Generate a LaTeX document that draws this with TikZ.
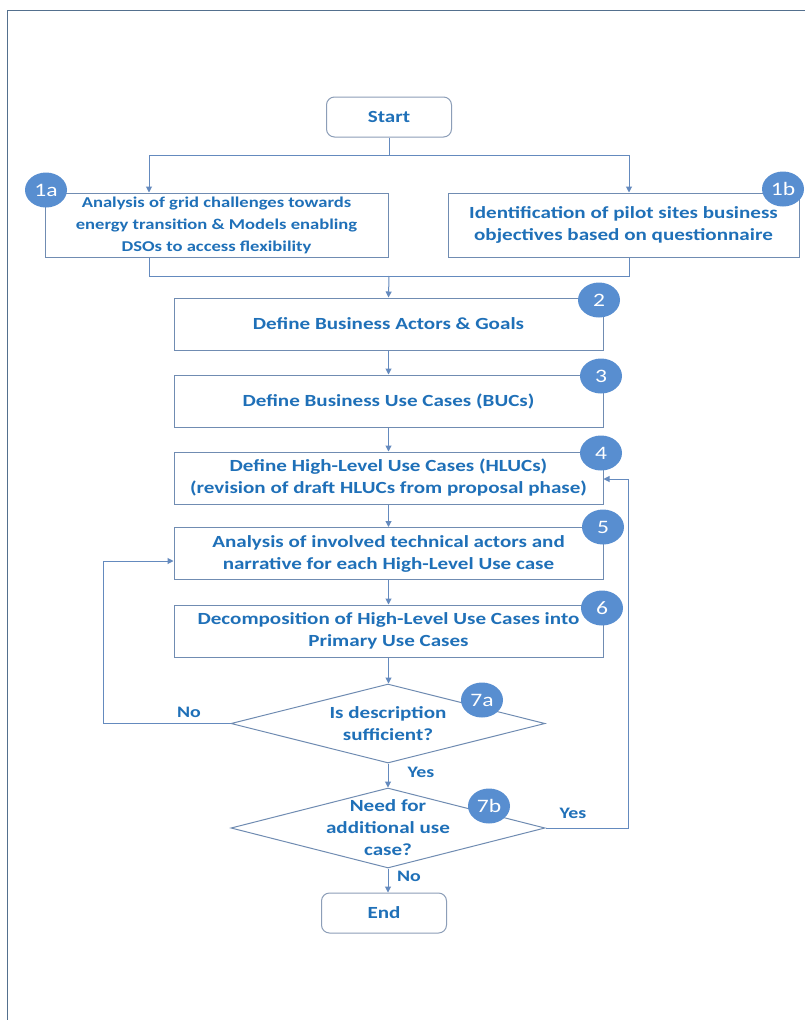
\documentclass[tikz,border=0pt]{standalone}
\usepackage{fontspec}
\setmainfont{Carlito}[FakeStretch=1.24]
\usetikzlibrary{arrows.meta,shapes.geometric}

\definecolor{txtblue}{RGB}{31,112,184}
\definecolor{linecol}{RGB}{100,138,190}
\definecolor{boxcol}{RGB}{112,140,178}
\definecolor{termcol}{RGB}{140,158,184}
\definecolor{badgecol}{RGB}{88,142,208}
\definecolor{framecol}{RGB}{84,112,142}

\tikzset{
  every node/.style={font=\bfseries\fontsize{17}{22}\selectfont, text=txtblue},
  procbox/.style={draw=boxcol, line width=1pt, fill=white, inner sep=0pt,
    align=center, minimum width=429pt, minimum height=52pt},
  sidebox/.style={draw=boxcol, line width=1pt, fill=white, inner sep=0pt,
    align=center, minimum height=64pt},
  termbox/.style={draw=termcol, line width=1pt, fill=white, rounded corners=8pt,
    inner sep=0pt, minimum width=125pt, minimum height=40pt},
  decision/.style={draw=boxcol, line width=1pt, fill=white, diamond,
    inner sep=0pt, minimum width=314pt, minimum height=79pt, aspect=4},
  badge/.style={ellipse, fill=badgecol, inner sep=0pt, minimum width=42pt,
    minimum height=35pt, font=\fontsize{19}{19}\selectfont, text=white},
  flow/.style={draw=linecol, line width=1pt},
  arr/.style={flow, -{Triangle[length=6pt,width=6pt]}},
  answer/.style={font=\bfseries\fontsize{16}{20}\selectfont},
}

\begin{document}
\begin{tikzpicture}[x=1pt, y=-1pt]
  \useasboundingbox (0,0) rectangle (805,1020);
  \fill[white] (0,0) rectangle (805,1020);
  % outer frame
  \draw[framecol, line width=0.8pt] (7,1020) -- (7,10) -- (805,10);

  % terminals
  \node[termbox] (start) at (389,117) {Start};
  \node[termbox] (end) at (384,913) {End};

  % first parallel pair
  \node[sidebox, minimum width=343pt] (a1) at (216.5,225)
    {\fontsize{15}{18}\selectfont Analysis of grid challenges towards\\
     \fontsize{15}{18}\selectfont energy transition \& Models enabling\\
     \fontsize{15}{18}\selectfont DSOs to access flexibility};
  \node[sidebox, minimum width=351pt] (b1) at (623.5,225)
    {Identification of pilot sites business\\objectives based on questionnaire};

  % main sequence
  \node[procbox] (b2) at (388.5,324) {Define Business Actors \& Goals};
  \node[procbox] (b3) at (388.5,401) {Define Business Use Cases (BUCs)};
  \node[procbox] (b4) at (388.5,478)
    {Define High-Level Use Cases (HLUCs)\\(revision of draft HLUCs from proposal phase)};
  \node[procbox] (b5) at (388.5,553.5)
    {Analysis of involved technical actors and\\narrative for each High-Level Use case};
  \node[procbox] (b6) at (388.5,631)
    {Decomposition of High-Level Use Cases into\\Primary Use Cases};

  % decisions
  \node[decision] (d7a) at (388,723.5) {};
  \node[align=center] (q7a) at (388,724) {Is description\\sufficient?};
  \node[decision, minimum height=80pt] (d7b) at (388,828) {};
  \node[align=center] (q7b) at (388,828) {Need for\\additional use\\case?};

  % connectors: split and merge
  \coordinate (split) at (389,155);
  \coordinate (merge) at (389,276);
  \draw[flow] (start.south) -- (split);
  \draw[arr] (split) -| ([xshift=-67.5pt]a1.north);
  \draw[arr] (split) -| ([xshift=5.5pt]b1.north);
  \draw[flow] ([xshift=-67.5pt]a1.south) |- (merge);
  \draw[flow] ([xshift=5.5pt]b1.south) |- (merge);
  \draw[arr] (merge) -- (b2.north);

  % connectors: main sequence
  \draw[arr] (b2.south) -- (b2.south |- b3.north);
  \draw[arr] (b3.south) -- (b3.south |- b4.north);
  \draw[arr] (b4.south) -- (b4.south |- b5.north);
  \draw[arr] (b5.south) -- (b5.south |- b6.north);
  \draw[arr] (b6.south) -- (b6.south |- d7a.north);
  \draw[arr] (d7a.south) -- (d7b.north);
  \draw[arr] (d7b.south) -- (d7b.south |- end.north);

  % feedback loops
  \draw[arr] (d7a.west) -- ++(-127,0) |- ([yshift=-7.5pt]b5.west);
  \draw[arr] (d7b.east) -- ++(83,0) |- ([yshift=-1pt]b4.east);

  % answers
  \node[answer] (no1) at (189,712) {No};
  \node[answer] (yes1) at (421,772) {Yes};
  \node[answer] (yes2) at (573,813) {Yes};
  \node[answer] (no2) at (409,876) {No};

  % step badges
  \node[badge] (s1a) at (46,190) {1a};
  \node[badge] (s1b) at (783,189) {1b};
  \node[badge] (s2) at (599,300) {2};
  \node[badge] (s3) at (601,376) {3};
  \node[badge] (s4) at (601,453) {4};
  \node[badge] (s5) at (603,527) {5};
  \node[badge] (s6) at (602,608) {6};
  \node[badge] (s7a) at (482,700) {7a};
  \node[badge] (s7b) at (489,806) {7b};
\end{tikzpicture}
\end{document}
